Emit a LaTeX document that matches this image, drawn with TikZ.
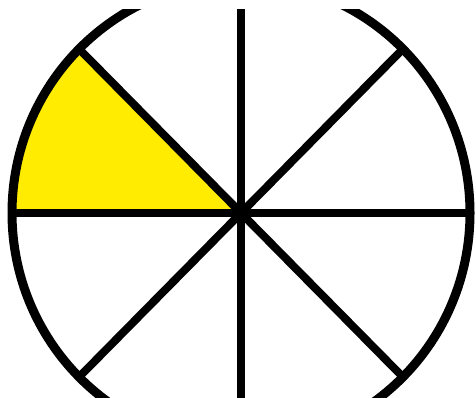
\documentclass[tikz,border=0pt]{standalone}
\usetikzlibrary{calc}
\definecolor{sectoryellow}{RGB}{255,236,0}
\begin{document}
\begin{tikzpicture}[x=1pt,y=1pt]
    \useasboundingbox (0,0) rectangle (476,398);
    \clip (0,0) rectangle (476,388);
    \coordinate (O) at (241,185);
    % Shaded sector (one eighth)
    \fill[sectoryellow] (O) -- ($(O)+(180:229pt and 232pt)$)
      arc[start angle=180, end angle=135, x radius=229pt, y radius=232pt] -- cycle;
    % Spokes
    \foreach \i in {0,...,7} {
      \coordinate (P\i) at ($(O)+(45*\i:229pt and 232pt)$);
      \draw[line width=8pt] (O) -- (P\i);
    }
    % Rim
    \draw[line width=9pt] (O) ellipse[x radius=229pt, y radius=232pt];
  \end{tikzpicture}
\end{document}
